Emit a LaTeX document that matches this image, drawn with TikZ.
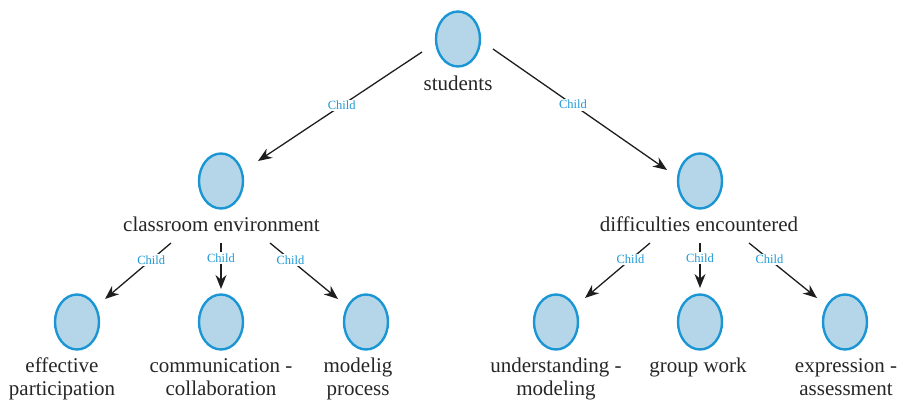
\documentclass[tikz,border=0pt]{standalone}
\usepackage{fontspec}
\setmainfont{Liberation Serif}
\usetikzlibrary{arrows.meta,calc,shapes.geometric}
\definecolor{nodefill}{HTML}{B5D6E8}
\definecolor{nodeline}{HTML}{1A96D4}
\definecolor{childcol}{HTML}{1E9AD6}
\definecolor{edgecol}{HTML}{1E1E1E}
\tikzset{
  oval/.style={ellipse, draw=nodeline, fill=nodefill, line width=2.4pt,
    minimum width=44pt, minimum height=55pt, inner sep=0pt},
  lbl/.style={font=\fontsize{21}{23.5}\selectfont, align=center, inner sep=0pt,
    text=black!85, anchor=base},
  edge/.style={draw=edgecol, line width=1.3pt,
    -{Stealth[length=14pt,width=11pt]}},
  childlab/.style={font=\fontsize{12.5}{14}\selectfont, text=childcol, fill=white,
    inner sep=1.5pt}
}
\begin{document}
\begin{tikzpicture}[x=1pt,y=-1pt]
\useasboundingbox (0,0) rectangle (900,402);
% nodes
\node[oval] (s) at (458,39) {};
\node[lbl] (sL) at (458,90) {students};
\node[oval] (c) at (221,181) {};
\node[lbl] (cL) at (221.5,231) {classroom environment};
\node[oval] (d) at (700,181) {};
\node[lbl] (dL) at (699,231) {difficulties encountered};
\node[oval] (e1) at (77,322) {};
\node[lbl] (e1L) at (62,395.5) {effective\\participation};
\node[oval] (e2) at (221,322) {};
\node[lbl] (e2L) at (221,395.5) {communication -\\collaboration};
\node[oval] (e3) at (366,322) {};
\node[lbl] (e3L) at (358,395.5) {modelig\\process};
\node[oval] (f1) at (556,322) {};
\node[lbl] (f1L) at (556,395.5) {understanding -\\modeling};
\node[oval] (f2) at (700,322) {};
\node[lbl] (f2L) at (698,372) {group work};
\node[oval] (f3) at (845,322) {};
\node[lbl] (f3L) at (846,395.5) {expression -\\assessment};
% edge end points
\coordinate (sa) at ($(s)+(-36,13)$);
\coordinate (sb) at ($(s)+(35,10)$);
\coordinate (ct) at ($(c)+(37,-20)$);
\coordinate (dt) at ($(d)+(-33,-11)$);
\coordinate (ca) at ($(c)+(-50,62)$);
\coordinate (cb) at ($(c)+(0,62)$);
\coordinate (cc) at ($(c)+(49,62)$);
\coordinate (da) at ($(d)+(-50,62)$);
\coordinate (db) at ($(d)+(0,62)$);
\coordinate (dc) at ($(d)+(49,62)$);
\coordinate (e1t) at ($(e1)+(28,-23)$);
\coordinate (e2t) at ($(e2)+(0,-33)$);
\coordinate (e3t) at ($(e3)+(-28,-23)$);
\coordinate (f1t) at ($(f1)+(29,-24)$);
\coordinate (f2t) at ($(f2)+(0,-34)$);
\coordinate (f3t) at ($(f3)+(-28,-24)$);
% edges
\draw[edge] (sa) -- node[childlab,pos=0.49]{Child} (ct);
\draw[edge] (sb) -- node[childlab,pos=0.46]{Child} (dt);
\draw[edge] (ca) -- node[childlab,pos=0.3]{Child} (e1t);
\draw[edge] (cb) -- node[childlab,pos=0.33]{Child} (e2t);
\draw[edge] (cc) -- node[childlab,pos=0.3]{Child} (e3t);
\draw[edge] (da) -- node[childlab,pos=0.3]{Child} (f1t);
\draw[edge] (db) -- node[childlab,pos=0.33]{Child} (f2t);
\draw[edge] (dc) -- node[childlab,pos=0.3]{Child} (f3t);
\end{tikzpicture}
\end{document}
